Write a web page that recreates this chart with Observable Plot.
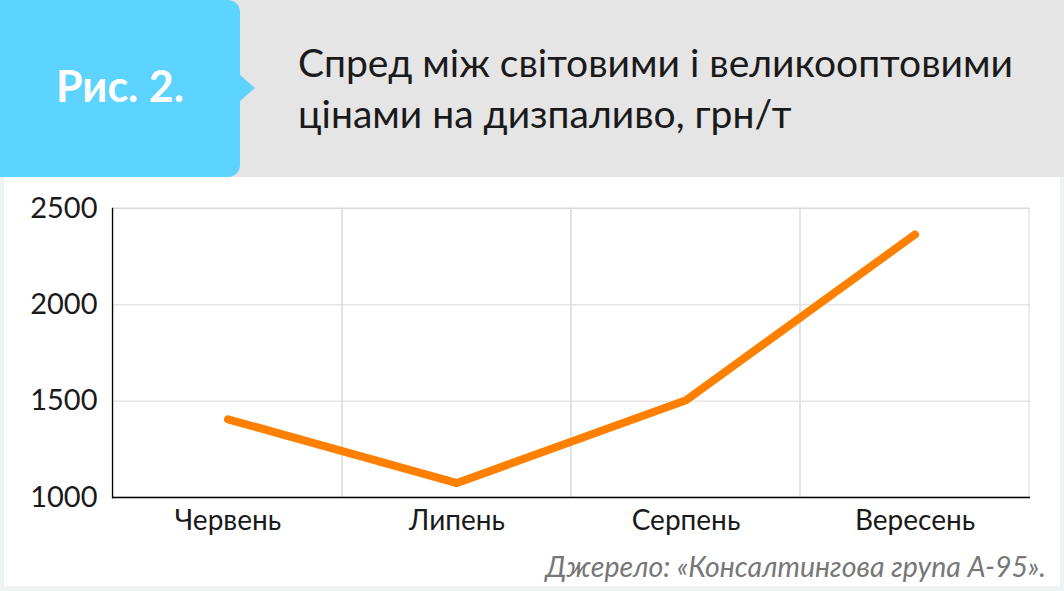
<!DOCTYPE html>
<html>
<head>
<meta charset="utf-8">
<script src="https://cdn.jsdelivr.net/npm/d3@7"></script>
<script src="https://cdn.jsdelivr.net/npm/@observablehq/plot@0.6"></script>
<style>
  html, body { margin: 0; padding: 0; }
  body { width: 1064px; height: 591px; background: #edf2f2; position: relative; overflow: hidden; font-family: Lato, "Noto Sans", sans-serif; }
  #header { position: absolute; left: 0; top: 0; width: 1064px; height: 177px; background: #e5e5e5; }
  #badge { position: absolute; left: 0; top: 0; width: 240px; height: 177px; background: #5dd3ff; border-radius: 0 12px 12px 0; }
  #badge span { position: absolute; left: 0; width: 240px; top: 61px; text-align: center; color: #fff; font-weight: 700; font-size: 43px; line-height: 50px; }
  #arrow { position: absolute; left: 240px; top: 75px; width: 0; height: 0; border-top: 13px solid transparent; border-bottom: 13px solid transparent; border-left: 15px solid #5dd3ff; }
  #title { position: absolute; left: 298px; top: 37px; font-size: 39px; line-height: 51px; color: #1a1a1a; font-weight: 400; }
  #panel { position: absolute; left: 4px; top: 177px; width: 1056px; height: 409px; background: #fff; }
  #chart { position: absolute; left: 0; top: 177px; }
  #source { position: absolute; right: 18px; top: 549px; font-size: 28.5px; font-style: italic; color: #777; }
</style>
</head>
<body>
<div id="header">
  <div id="badge"><span>Рис. 2.</span></div>
  <div id="arrow"></div>
  <div id="title">Спред між світовими і великооптовими<br>цінами на дизпаливо, грн/т</div>
</div>
<div id="panel"></div>
<div id="chart"></div>
<div id="source">Джерело: «Консалтингова група А-95».</div>
<script>
const months = ["Червень", "Липень", "Серпень", "Вересень"];
const spread = [1406, 1075, 1505, 2365];
const yTicks = [1000, 1500, 2000, 2500];

const data = months.map((m, i) => ({month: m, value: spread[i]}));

const chart = Plot.plot({
  width: 1064,
  height: 400,
  marginLeft: 112,
  marginRight: 34,
  marginTop: 31,
  marginBottom: 80,
  style: {fontFamily: "Lato, 'Noto Sans', sans-serif", color: "#1a1a1a", background: "transparent"},
  x: {type: "band", domain: months, padding: 0},
  y: {domain: [yTicks[0], yTicks[yTicks.length - 1]]},
  marks: [
    Plot.barY(months, {x: d => d, y1: () => yTicks[0], y2: () => yTicks[yTicks.length - 1], fill: "none", stroke: "#d9d9d9", strokeWidth: 1}),
    Plot.gridY(yTicks, {stroke: "#d9d9d9", strokeOpacity: 1}),
    Plot.ruleY([yTicks[0]], {stroke: "#000", strokeWidth: 1.3}),
    Plot.frame({anchor: "left", stroke: "#000", strokeWidth: 1.3}),
    Plot.line(data, {x: "month", y: "value", stroke: "#ff8000", strokeWidth: 8, strokeLinecap: "round", strokeLinejoin: "round"}),
    Plot.axisY(yTicks, {tickSize: 0, tickPadding: 15, fontSize: 29, label: null, tickFormat: d => String(d)}),
    Plot.axisX({tickSize: 0, tickPadding: 13, fontSize: 28, label: null})
  ]
});
document.getElementById("chart").appendChild(chart);
</script>
</body>
</html>
